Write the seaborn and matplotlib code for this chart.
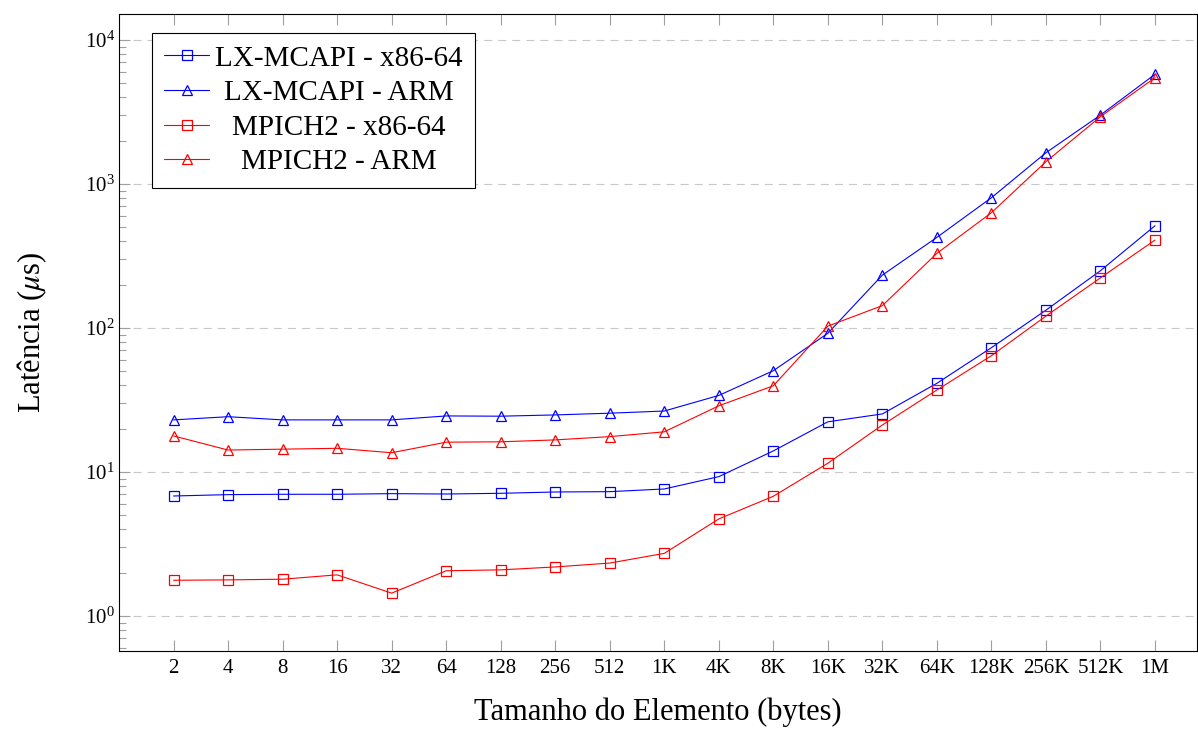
import numpy as np
import pandas as pd
import matplotlib
matplotlib.use("Agg")
import matplotlib.pyplot as plt
import seaborn as sns

# message sizes (x categories)
sizes = ['2', '4', '8', '16', '32', '64', '128', '256', '512', '1K',
         '4K', '8K', '16K', '32K', '64K', '128K', '256K', '512K', '1M']

# latency in microseconds
lx_x86 = [6.81, 6.96, 7.0, 7.0, 7.07, 7.03, 7.11, 7.26, 7.30, 7.62,
          9.28, 14.0, 22.3, 25.3, 41.3, 73.0, 133, 250, 513]
lx_arm = [23.0, 24.2, 23.0, 23.0, 23.0, 24.5, 24.4, 24.9, 25.6, 26.5,
          34.0, 50.5, 91.9, 233, 426, 803, 1649, 3013, 5780]
mp_x86 = [1.77, 1.78, 1.80, 1.93, 1.44, 2.06, 2.09, 2.19, 2.33, 2.72,
          4.72, 6.78, 11.5, 21.2, 37.1, 64.2, 121, 223, 408]
mp_arm = [17.8, 14.2, 14.4, 14.6, 13.6, 16.1, 16.2, 16.7, 17.6, 19.0,
          28.8, 39.7, 103, 143, 330, 632, 1429, 2935, 5473]

series_names = ['LX-MCAPI - x86-64', 'LX-MCAPI - ARM', 'MPICH2 - x86-64', 'MPICH2 - ARM']
series_vals = [lx_x86, lx_arm, mp_x86, mp_arm]
series_colors = ['#0000ff', '#0000ff', '#ff0000', '#ff0000']
series_markers = ['s', '^', 's', '^']

rows = []
for name, vals in zip(series_names, series_vals):
    for i, v in enumerate(vals):
        rows.append({'pos': i, 'lat': v, 'serie': name})
df = pd.DataFrame(rows)

sns.set_style("ticks")
plt.rcParams['font.family'] = ['Liberation Serif', 'DejaVu Serif']
plt.rcParams['mathtext.fontset'] = 'stix'
plt.rcParams['lines.scale_dashes'] = False
plt.rcParams['text.color'] = 'black'
plt.rcParams['axes.labelcolor'] = 'black'

fig = plt.figure(figsize=(11.98, 7.29), dpi=100)
ax = fig.add_axes([119 / 1198, 78 / 729, (1197 - 119) / 1198, (651 - 14) / 729])

for name, col, mk in zip(series_names, series_colors, series_markers):
    sub = df[df['serie'] == name]
    sns.lineplot(data=sub, x='pos', y='lat', ax=ax, color=col, marker=mk,
                 markersize=7.4 if mk == 's' else 7, markerfacecolor='none',
                 markeredgecolor=col, markeredgewidth=0.9, linewidth=0.8,
                 label=name)

ax.set_yscale('log')
ax.set_ylim(0.571, 15157)
ax.set_xlim(-1, 18.77)
ax.set_xticks(range(len(sizes)))
ax.set_xticklabels(sizes)

ax.yaxis.grid(True, which='major', color='#c8c8c8', linestyle=(0, (5.8, 4.3)), linewidth=0.8)
ax.xaxis.grid(False)

ax.tick_params(axis='both', which='major', direction='in', length=8, width=0.8,
               color='#a0a0a0', labelcolor='black', labelsize=15)
ax.tick_params(axis='x', top=True, pad=6)
ax.tick_params(axis='y', which='major', pad=3)
ax.tick_params(axis='y', which='minor', direction='in', length=5, width=0.8, color='#a0a0a0')
ax.tick_params(axis='x', which='minor', bottom=False, top=False)

for s in ['left', 'bottom', 'top', 'right']:
    ax.spines[s].set_color('black')
    ax.spines[s].set_linewidth(0.8)

ax.set_xlabel('Tamanho do Elemento (bytes)', fontsize=22, labelpad=14, color='black')
ax.set_ylabel(r'Latência ($\mu$s)', fontsize=22, labelpad=26, color='black')

leg = ax.legend(loc='upper left', bbox_to_anchor=(33 / 1078, (651 - 33) / 637),
                borderaxespad=0, fontsize=21, fancybox=False, framealpha=1,
                edgecolor='black', handlelength=1.55, handletextpad=0.2,
                labelspacing=0.28, borderpad=0.42, labelcolor='black')
leg.get_frame().set_linewidth(0.8)

# center legend entries like the original
fig.canvas.draw()
renderer = fig.canvas.get_renderer()
widths = [t.get_window_extent(renderer).width for t in leg.get_texts()]
wmax = max(widths)
for t, w in zip(leg.get_texts(), widths):
    t.set_position(((wmax - w) / 2, 0))

fig.savefig('out.png', dpi=100)
